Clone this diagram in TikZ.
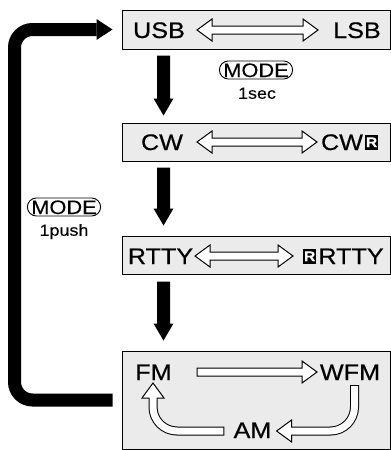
\documentclass[tikz,border=0pt]{standalone}
\usepackage{fontspec}
\setmainfont{Liberation Sans}[FakeStretch=1.12,FakeBold=0.5]
\newfontfamily\plainfont{Liberation Sans}[FakeStretch=1.12,FakeBold=0.15]
\usetikzlibrary{shapes.misc,calc}
\definecolor{boxgray}{HTML}{EBEBEB}
\newcommand\dblarrow[2]{%
  \filldraw[fill=white, line width=1pt, line join=miter] let \p1=(#1), \p2=(#2) in
  (\p1) -- (\x1+15pt,\y1+11pt) -- (\x1+15pt,\y1+4pt) -- (\x2-15pt,\y1+4pt) -- (\x2-15pt,\y1+11pt)
  -- (\x2,\y1) -- (\x2-15pt,\y1-11pt) -- (\x2-15pt,\y1-4pt) -- (\x1+15pt,\y1-4pt) -- (\x1+15pt,\y1-11pt) -- cycle;}
\newcommand\sglarrow[2]{%
  \filldraw[fill=white, line width=1pt, line join=miter] let \p1=(#1), \p2=(#2) in
  (\x1,\y1+4pt) -- (\x2-15pt,\y1+4pt) -- (\x2-15pt,\y1+11pt) -- (\x2,\y1)
  -- (\x2-15pt,\y1-11pt) -- (\x2-15pt,\y1-4pt) -- (\x1,\y1-4pt) -- cycle;}
\newcommand\bigdown[2]{%
  \fill let \p1=(#1), \p2=(#2) in
  (\x1-6.5pt,\y1) -- (\x1+6.5pt,\y1) -- (\x1+6.5pt,\y2+17pt) -- (\x1+10pt,\y2+17pt)
  -- (\x1,\y2) -- (\x1-10pt,\y2+17pt) -- (\x1-6.5pt,\y2+17pt) -- cycle;}
\begin{document}
\begin{tikzpicture}[x=1pt,y=-1pt,
  modebox/.style={draw, line width=1pt, fill=boxgray, minimum width=268pt, inner sep=0pt},
  lbl/.style={inner sep=0pt, font=\fontsize{22.5}{22.5}\selectfont, text height=16pt, text depth=0pt},
  rbox/.style={fill=black, text=white, inner sep=0pt, minimum width=12.5pt, minimum height=15.5pt,
    font=\fontsize{14}{14}\selectfont\bfseries},
  pill/.style={rounded rectangle, draw, line width=0.9pt, inner xsep=0.5pt, inner ysep=2pt,
    font=\plainfont\fontsize{19.5}{19.5}\selectfont, text height=14pt, text depth=0pt},
  small/.style={inner sep=0pt, font=\plainfont\fontsize{16}{16}\selectfont, text height=11.5pt, text depth=0pt}]
\useasboundingbox (0,0) rectangle (391,450);
% boxes
\node[modebox, minimum height=39pt] (b1) at (256,29.5) {};
\node[modebox, minimum height=38pt] (b2) at (256,142) {};
\node[modebox, minimum height=38pt] (b3) at (256,255) {};
\node[modebox, minimum height=98pt] (b4) at (256,400) {};
% labels
\node[lbl] (usb) at (159,30) {USB};
\node[lbl] (lsb) at (357,30) {LSB};
\node[lbl] (cw) at (162,142) {CW};
\node[lbl] (cwr) at (342,142) {CW};
\node[rbox, anchor=south west] (cwrb) at ($(cwr.south east)+(2,0)$) {R};
\node[lbl] (rtty) at (160.5,256) {RTTY};
\node[lbl] (rrtty) at (351,256) {RTTY};
\node[rbox, anchor=south east] (rrttyb) at ($(rrtty.south west)+(-2,0)$) {R};
\node[lbl] (fm) at (153.5,372) {FM};
\node[lbl] (wfm) at (350,372) {WFM};
\node[lbl] (am) at (252.5,430) {AM};
\node[pill] (mode1) at (256,70) {MODE};
\node[small] (sec) at (257,93) {1sec};
\node[pill] (mode2) at (64,207) {MODE};
\node[small] (push) at (64,230) {1push};
% hollow arrows
\coordinate (d1a) at (197,30); \coordinate (d1b) at (318,30);
\coordinate (d2a) at (197,142); \coordinate (d2b) at (317,142);
\coordinate (d3a) at (195,256); \coordinate (d3b) at (293,256);
\coordinate (d4a) at (197,372); \coordinate (d4b) at (317,372);
\dblarrow{d1a}{d1b}
\dblarrow{d2a}{d2b}
\dblarrow{d3a}{d3b}
\sglarrow{d4a}{d4b}
% WFM -> AM
\coordinate (rs) at (354.5,385);
\coordinate (rc) at (354.5,431);
\coordinate (rt) at ($(am.east)+(5,1)$);
\coordinate (rb) at ($(rt)+(15,0)$);
\draw[line width=9pt, rounded corners=24pt] (rs) -- (rc) -- (rb);
\filldraw[fill=white, line width=1pt, line join=miter] (rt) -- ($(rb)+(0,-11)$) -- ($(rb)+(0,11)$) -- cycle;
\draw[white, line width=7pt, rounded corners=24pt, shorten <=1pt, shorten >=-1.6pt] (rs) -- (rc) -- (rb);
% AM -> FM
\coordinate (ls2) at ($(am.west)+(-9,1)$);
\coordinate (lc2) at (153,431);
\coordinate (lt2) at (153,383);
\coordinate (lb2) at ($(lt2)+(0,15)$);
\draw[line width=9pt, rounded corners=24pt] (ls2) -- (lc2) -- (lb2);
\filldraw[fill=white, line width=1pt, line join=miter] (lt2) -- ($(lb2)+(-11,0)$) -- ($(lb2)+(11,0)$) -- cycle;
\draw[white, line width=7pt, rounded corners=24pt, shorten <=1pt, shorten >=-1.6pt] (ls2) -- (lc2) -- (lb2);
% black down arrows
\coordinate (s1) at ($(b1.south west)+(42,6)$); \coordinate (t1) at ($(b2.north west)+(42,-7)$);
\coordinate (s2) at ($(b2.south west)+(42,6)$); \coordinate (t2) at ($(b3.north west)+(42,-10)$);
\coordinate (s3) at ($(b3.south west)+(42,7)$); \coordinate (t3) at ($(b4.north west)+(42,-10)$);
\bigdown{s1}{t1}
\bigdown{s2}{t2}
\bigdown{s3}{t3}
% loop arrow
\coordinate (lps) at ($(b4.west)+(-9,0)$);
\coordinate (lpt) at ($(b1.west)+(-9,0)$);
\coordinate (lph) at ($(lpt)+(-16,0)$);
\draw[line width=13pt, rounded corners=18pt] (lps) -- ++(-98,0) |- (lph);
\fill (lpt) -- ($(lph)+(0,-10.5)$) -- ($(lph)+(0,10.5)$) -- cycle;
\end{tikzpicture}
\end{document}
